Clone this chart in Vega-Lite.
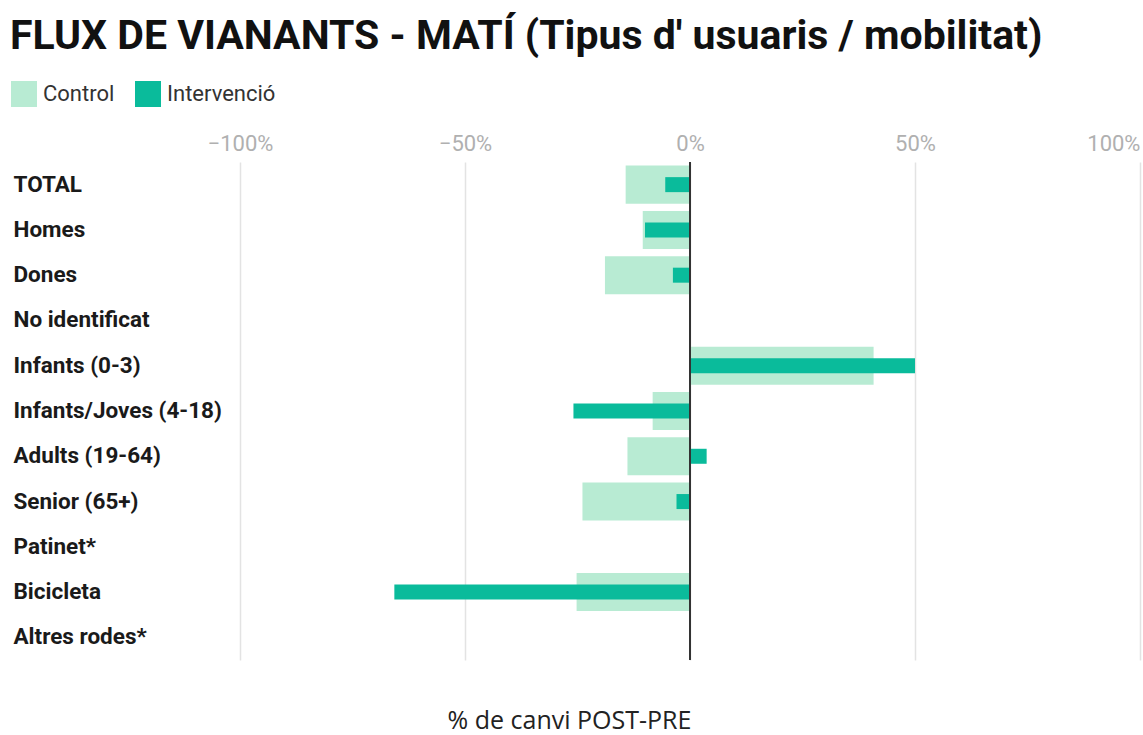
{
  "$schema": "https://vega.github.io/schema/vega-lite/v6.json",
  "autosize": {"type": "none"},
  "width": 900,
  "height": 498,
  "padding": {"left": 240, "top": 162, "right": 3, "bottom": 75},
  "background": "white",
  "config": {"view": {"stroke": null}, "font": "Roboto"},
  "title": {
    "text": "FLUX DE VIANANTS - MATÍ (Tipus d' usuaris / mobilitat)",
    "anchor": "start",
    "frame": "group",
    "dx": -230,
    "dy": 39,
    "offset": 30,
    "baseline": "alphabetic",
    "font": "Roboto",
    "fontSize": 41,
    "fontWeight": "bold",
    "color": "#111111"
  },
  "data": {
    "values": [
      {"categoria": "TOTAL", "grup": "Control", "canvi": -0.143},
      {"categoria": "TOTAL", "grup": "Intervenció", "canvi": -0.055},
      {"categoria": "Homes", "grup": "Control", "canvi": -0.105},
      {"categoria": "Homes", "grup": "Intervenció", "canvi": -0.1},
      {"categoria": "Dones", "grup": "Control", "canvi": -0.189},
      {"categoria": "Dones", "grup": "Intervenció", "canvi": -0.038},
      {"categoria": "Infants (0-3)", "grup": "Control", "canvi": 0.408},
      {"categoria": "Infants (0-3)", "grup": "Intervenció", "canvi": 0.5},
      {"categoria": "Infants/Joves (4-18)", "grup": "Control", "canvi": -0.083},
      {"categoria": "Infants/Joves (4-18)", "grup": "Intervenció", "canvi": -0.259},
      {"categoria": "Adults (19-64)", "grup": "Control", "canvi": -0.139},
      {"categoria": "Adults (19-64)", "grup": "Intervenció", "canvi": 0.037},
      {"categoria": "Senior (65+)", "grup": "Control", "canvi": -0.239},
      {"categoria": "Senior (65+)", "grup": "Intervenció", "canvi": -0.03},
      {"categoria": "Bicicleta", "grup": "Control", "canvi": -0.252},
      {"categoria": "Bicicleta", "grup": "Intervenció", "canvi": -0.657}
    ]
  },
  "resolve": {"axis": {"x": "independent"}},
  "layer": [
    {
      "transform": [{"filter": "datum.grup == 'Control'"}],
      "mark": {"type": "bar"},
      "encoding": {
        "y": {
          "field": "categoria",
          "type": "nominal",
          "scale": {
            "domain": ["TOTAL", "Homes", "Dones", "No identificat", "Infants (0-3)", "Infants/Joves (4-18)", "Adults (19-64)", "Senior (65+)", "Patinet*", "Bicicleta", "Altres rodes*"],
            "paddingInner": 0.16,
            "paddingOuter": 0.08
          },
          "axis": {
            "title": null,
            "orient": "left",
            "domain": false,
            "ticks": false,
            "labelAlign": "left",
            "labelPadding": 227,
            "labelLimit": 0,
            "labelFont": "Roboto",
            "labelFontSize": 22.5,
            "labelFontWeight": "bold",
            "labelColor": "#1a1a1a"
          }
        },
        "x": {
          "field": "canvi",
          "type": "quantitative",
          "scale": {"domain": [-1, 1], "nice": false},
          "axis": {
            "orient": "top",
            "title": null,
            "values": [-1, -0.5, 0, 0.5, 1],
            "format": ".0%",
            "domain": false,
            "ticks": false,
            "grid": true,
            "gridColor": "#e3e3e3",
            "gridWidth": 1.5,
            "labelFont": "Roboto",
            "labelFontSize": 22,
            "labelColor": "#b0b0b0",
            "labelPadding": 7,
            "labelAlign": {"condition": {"test": "datum.value == 1", "value": "right"}, "value": "center"}
          }
        },
        "color": {
          "field": "grup",
          "type": "nominal",
          "scale": {"domain": ["Control", "Intervenció"], "range": ["#b8ebd3", "#0abb9b"]},
          "legend": {
            "title": null,
            "orient": "none",
            "direction": "horizontal",
            "legendX": -229,
            "legendY": -81,
            "symbolType": "square",
            "symbolSize": 676,
            "symbolStrokeWidth": 0,
            "labelFont": "Roboto",
            "labelFontSize": 22,
            "labelColor": "#333333",
            "labelOffset": 6,
            "columnPadding": 20
          }
        }
      }
    },
    {
      "transform": [{"filter": "datum.grup == 'Intervenció'"}],
      "mark": {"type": "bar"},
      "encoding": {
        "y": {"field": "categoria", "type": "nominal"},
        "x": {"field": "canvi", "type": "quantitative", "axis": null},
        "size": {"value": 15},
        "color": {"field": "grup", "type": "nominal"}
      }
    },
    {
      "mark": {"type": "rule", "color": "#333333", "strokeWidth": 2},
      "encoding": {
        "x": {
          "datum": 0,
          "type": "quantitative",
          "axis": {
            "orient": "bottom",
            "labels": false,
            "ticks": false,
            "domain": false,
            "grid": false,
            "title": "% de canvi POST-PRE",
            "titleFont": "Open Sans",
            "titleFontSize": 25,
            "titleFontWeight": "normal",
            "titleColor": "#222222",
            "titleX": 329,
            "titleY": 68,
            "titleAlign": "center",
            "titleBaseline": "alphabetic"
          }
        }
      }
    }
  ]
}
